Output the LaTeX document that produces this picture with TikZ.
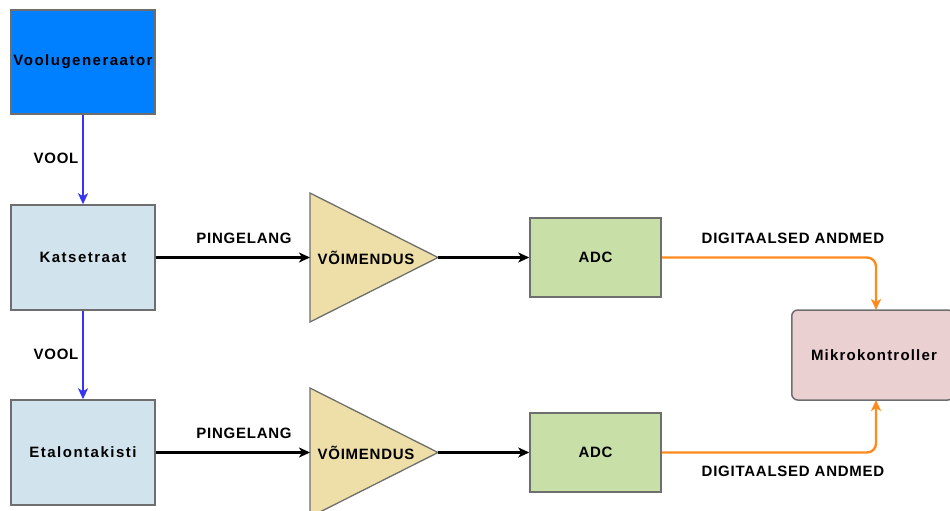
\documentclass[tikz,border=0pt]{standalone}
\usepackage{fontspec}
\setmainfont{Liberation Sans}
\usetikzlibrary{arrows.meta}
\definecolor{genblue}{HTML}{007FFF}
\definecolor{lblue}{HTML}{D1E3EC}
\definecolor{ampfill}{HTML}{EEDFA8}
\definecolor{adcfill}{HTML}{C8E0A8}
\definecolor{mcfill}{HTML}{EBD0D2}
\definecolor{bord}{HTML}{6E6E6E}
\definecolor{orng}{HTML}{FF8A1E}
\definecolor{vblue}{HTML}{3535F2}
\newfontfamily\boxfont[LetterSpace=10]{Liberation Sans}
\newfontfamily\lblfont[LetterSpace=5]{Liberation Sans}
\newfontfamily\mcfont[LetterSpace=8]{Liberation Sans}
\tikzset{
  box/.style={draw=bord, line width=1.5pt, inner sep=0pt, font=\boxfont\fontsize{15}{17}\selectfont\bfseries},
  lbl/.style={font=\lblfont\fontsize{15}{17}\selectfont\bfseries, inner sep=0pt},
  tip/.style={-{Stealth[length=11pt,width=10pt,inset=3pt]}},
  sig/.style={line width=2.4pt, tip},
  cur/.style={line width=2.4pt, draw=vblue, tip},
  dig/.style={line width=2.4pt, draw=orng, rounded corners=9pt, tip},
  ampshape/.style={draw=bord, line width=1.3pt, fill=ampfill}
}
\begin{document}
\begin{tikzpicture}[x=1pt,y=-1pt]
\useasboundingbox (0,0) rectangle (950,511);
% boxes
\node[box, fill=genblue, minimum width=144pt, minimum height=104pt] (gen) at (83,62) {Voolugeneraator};
\node[box, fill=lblue, minimum width=144pt, minimum height=105pt] (kat) at (83,257.5) {Katsetraat};
\node[box, fill=lblue, minimum width=144pt, minimum height=105pt] (eta) at (83,452.5) {Etalontakisti};
\node[box, fill=adcfill, minimum width=131pt, minimum height=79pt] (adc1) at (595.5,257.5) {\lblfont ADC};
\node[box, fill=adcfill, minimum width=131pt, minimum height=79pt] (adc2) at (595.5,452.5) {\lblfont ADC};
\node[box, fill=mcfill, rounded corners=6pt, minimum width=162pt, minimum height=90pt, anchor=west] (mc) at (791,355) {};
\node[lbl, font=\mcfont\fontsize{15}{17}\selectfont\bfseries] (mctext) at (874,355) {Mikrokontroller};
% amplifiers
\draw[ampshape] (310,193) -- (438,257.5) -- (310,322) -- cycle;
\coordinate (a1in) at (310,257.5);
\coordinate (a1out) at (438,257.5);
\node[lbl] (a1t) at (366,257.5) {VÕIMENDUS};
\draw[ampshape] (310,388) -- (438,452.5) -- (310,517) -- cycle;
\coordinate (a2in) at (310,452.5);
\coordinate (a2out) at (438,452.5);
\node[lbl] (a2t) at (366,452.5) {VÕIMENDUS};
% connectors
\draw[cur] (gen.south) -- (kat.north);
\draw[cur] (kat.south) -- (eta.north);
\draw[sig] (kat.east) -- (a1in);
\draw[sig] (eta.east) -- (a2in);
\draw[sig] (a1out) -- (adc1.west);
\draw[sig] (a2out) -- (adc2.west);
\coordinate (mctop) at (876,310);
\coordinate (mcbot) at (876,400);
\draw[dig] (adc1.east) -- (876,257.5) -- (mctop);
\draw[dig] (adc2.east) -- (876,452.5) -- (mcbot);
% labels
\node[lbl] (v1) at (56,158) {VOOL};
\node[lbl] (v2) at (56,354) {VOOL};
\node[lbl] (p1) at (244,238) {PINGELANG};
\node[lbl] (p2) at (244,433) {PINGELANG};
\node[lbl] (d1) at (793,238) {DIGITAALSED ANDMED};
\node[lbl] (d2) at (793,471) {DIGITAALSED ANDMED};
\end{tikzpicture}
\end{document}
